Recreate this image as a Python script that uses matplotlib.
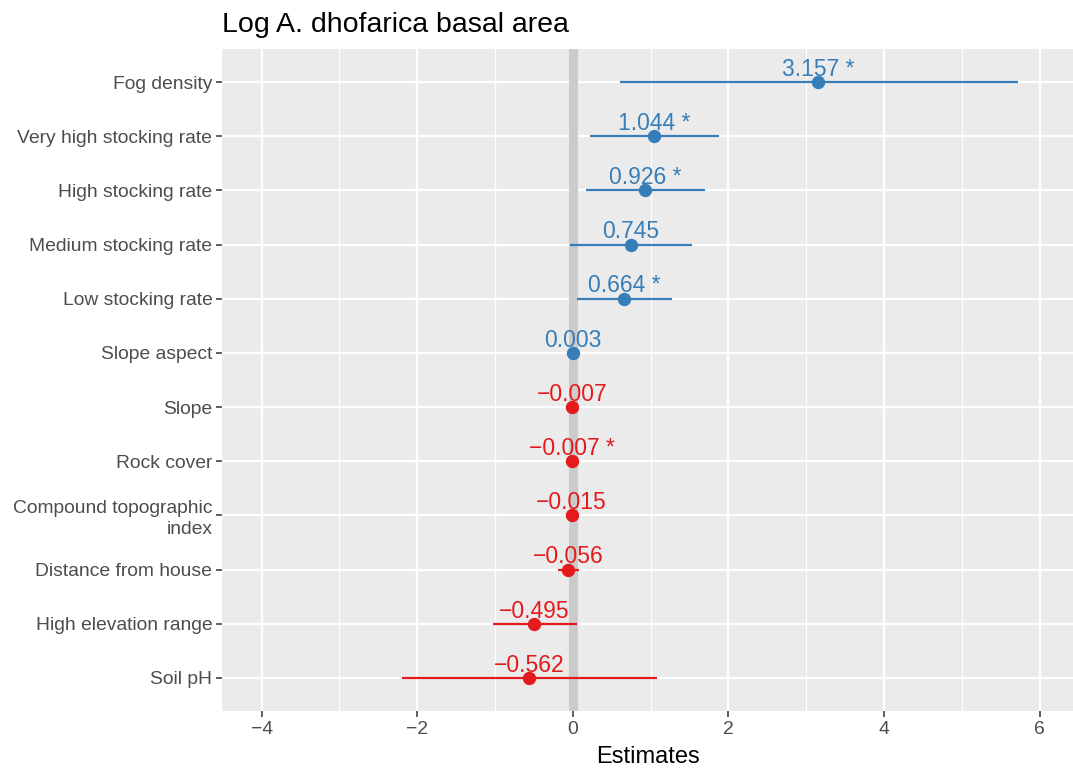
import numpy as np
import matplotlib
matplotlib.use("Agg")
from matplotlib import pyplot as plt
from matplotlib.ticker import MultipleLocator

plt.rcParams["font.family"] = ["Liberation Sans", "DejaVu Sans"]

# -------------------- Data --------------------
terms = [
    "Fog density",
    "Very high stocking rate",
    "High stocking rate",
    "Medium stocking rate",
    "Low stocking rate",
    "Slope aspect",
    "Slope",
    "Rock cover",
    "Compound topographic\nindex",
    "Distance from house",
    "High elevation range",
    "Soil pH",
]
estimates = [3.157, 1.044, 0.926, 0.745, 0.664, 0.003,
             -0.007, -0.007, -0.015, -0.056, -0.495, -0.562]
ci_low = [0.61, 0.22, 0.17, -0.04, 0.06, -0.01,
          -0.02, -0.013, -0.05, -0.19, -1.03, -2.20]
ci_high = [5.72, 1.88, 1.70, 1.53, 1.28, 0.02,
           0.01, -0.001, 0.02, 0.08, 0.05, 1.08]
signif = [True, True, True, False, True, False,
          False, True, False, False, False, False]

BLUE = "#377EB8"
RED = "#E41A1C"

# -------------------- Plot --------------------
fig = plt.figure(figsize=(10.73, 7.69), dpi=100)
ax = fig.add_axes([222 / 1073, 58 / 769, 1 - 222 / 1073, 662 / 769])
ax.set_facecolor("#EBEBEB")
for s in ax.spines.values():
    s.set_visible(False)

n = len(terms)
ypos = np.arange(n, 0, -1)

ax.set_xlim(-4.51, 6.43)
ax.set_ylim(0.39, n + 0.61)
ax.xaxis.set_major_locator(MultipleLocator(2))
ax.xaxis.set_minor_locator(MultipleLocator(1))
ax.set_yticks(ypos)
ax.set_yticklabels(terms, linespacing=1.3)

ax.grid(which="major", color="white", linewidth=1.6)
ax.grid(which="minor", axis="x", color="white", linewidth=0.8)
ax.set_axisbelow(True)

ax.axvline(0, color="#CBCBCB", linewidth=6.5, zorder=1)

for y, est, lo, hi, sig in zip(ypos, estimates, ci_low, ci_high, signif):
    col = BLUE if est > 0 else RED
    ax.plot([lo, hi], [y, y], color=col, linewidth=1.6, zorder=3,
            solid_capstyle="butt")
    ax.plot(est, y, "o", color=col, markersize=8.6, zorder=4)
    label = f"{est:.3f}".replace("-", "\u2212") + (" *" if sig else "")
    ax.annotate(label, (est, y), xytext=(0, 4.5), textcoords="offset points",
                ha="center", va="baseline", fontsize=16.5, color=col, zorder=5)

ax.tick_params(axis="both", which="major", length=4, width=1.1,
               color="#333333", labelcolor="#4D4D4D", labelsize=13.9, pad=3)
ax.tick_params(axis="both", which="minor", length=0)
ax.set_xticklabels([f"{v:g}".replace("-", "\u2212") for v in ax.get_xticks()])

ax.set_xlabel("Estimates", fontsize=17, color="black", labelpad=6)
ax.set_title("Log A. dhofarica basal area", loc="left", fontsize=20.5,
             color="black", pad=12)

fig.savefig("out.png", dpi=100)
